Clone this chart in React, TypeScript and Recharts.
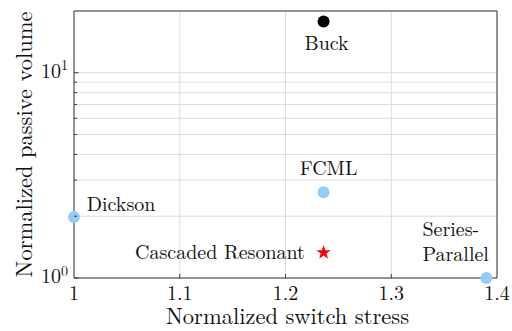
import React from "react";
import { ScatterChart, Scatter, XAxis, YAxis, CartesianGrid } from "recharts";

const blueSeries = [
  { name: "FCML", x: 1.236, y: 2.62 },
  { name: "Dickson", x: 1.0, y: 1.98 },
  { name: "Series-Parallel", x: 1.39, y: 1.0 },
];
const buckSeries = [{ name: "Buck", x: 1.236, y: 17.8 }];
const resonantSeries = [{ name: "Cascaded Resonant", x: 1.236, y: 1.33 }];

const xTicks = [1, 1.1, 1.2, 1.3, 1.4];
const yTicks = [1, 2, 3, 4, 5, 6, 7, 8, 9, 10, 20];
const yMajor = [1, 10];
const xTitle = "Normalized switch stress";
const yTitle = "Normalized passive volume";

const FONT = '"Latin Modern Roman"';
const AX = "#3a3a3a";
const GRID = "#dcdcdc";
const BLUE = "#91cdf6";

// label placement relative to each marker (style only)
const labelStyle: Record<string, { lines: { dx: number; dy: number; text: string }[]; anchor: string }> = {
  Buck: { anchor: "middle", lines: [{ dx: 3, dy: 28.5, text: "Buck" }] },
  FCML: { anchor: "middle", lines: [{ dx: 5, dy: -16.7, text: "FCML" }] },
  Dickson: { anchor: "start", lines: [{ dx: 12.7, dy: -5.7, text: "Dickson" }] },
  "Series-Parallel": {
    anchor: "start",
    lines: [
      { dx: -64, dy: -42, text: "Series-" },
      { dx: -64, dy: -17.3, text: "Parallel" },
    ],
  },
  "Cascaded Resonant": { anchor: "end", lines: [{ dx: -18.7, dy: 6.7, text: "Cascaded Resonant" }] },
};

const txtStyle = { fontFamily: FONT };

const PointLabel = ({ cx, cy, name }: any) => {
  const s = labelStyle[name];
  if (!s) return null;
  return (
    <g>
      {s.lines.map((l, i) => (
        <text
          key={i}
          x={cx + l.dx}
          y={cy + l.dy}
          textAnchor={s.anchor as any}
          fontFamily={FONT}
          style={txtStyle}
          fontSize={20}
          fill="#111"
        >
          {l.text}
        </text>
      ))}
    </g>
  );
};

const makeDot = (color: string) => (props: any) => {
  const { cx, cy, payload } = props;
  return (
    <g>
      <circle cx={cx} cy={cy} r={6} fill={color} />
      <PointLabel cx={cx} cy={cy} name={payload.name} />
    </g>
  );
};

const StarShape = (props: any) => {
  const { cx, cy, payload } = props;
  const R = 7.5;
  const r = 3.0;
  const pts: string[] = [];
  for (let i = 0; i < 10; i++) {
    const a = -Math.PI / 2 + (i * Math.PI) / 5;
    const rad = i % 2 === 0 ? R : r;
    pts.push(`${cx + rad * Math.cos(a)},${cy + rad * Math.sin(a)}`);
  }
  return (
    <g>
      <polygon points={pts.join(" ")} fill="#ff0000" />
      <PointLabel cx={cx} cy={cy} name={payload.name} />
    </g>
  );
};

const LeftTick = (props: any) => {
  const { x, y, payload } = props;
  const v = payload.value;
  const major = yMajor.includes(v);
  const len = major ? 4.5 : 3;
  return (
    <g>
      {v !== 20 && <line x1={x} x2={x + len} y1={y} y2={y} stroke={AX} strokeWidth={1} />}
      {major && (
        <text x={x - 6} y={y + 5} textAnchor="end" fontFamily={FONT} style={txtStyle} fontSize={20} fill="#111">
          10
          <tspan fontSize={14} dy={-7.5}>
            {v === 1 ? "0" : "1"}
          </tspan>
        </text>
      )}
    </g>
  );
};

const RightTick = (props: any) => {
  const { x, y, payload } = props;
  const v = payload.value;
  if (v === 20 || v === 1) return null;
  const len = yMajor.includes(v) ? 4.5 : 3;
  return <line x1={x} x2={x - len} y1={y} y2={y} stroke={AX} strokeWidth={1} />;
};

const BottomTick = (props: any) => {
  const { x, y, payload } = props;
  const v = payload.value;
  return (
    <g>
      {v !== 1 && v !== 1.4 && <line x1={x} x2={x} y1={y} y2={y - 4} stroke={AX} strokeWidth={1} />}
      <text x={x} y={y + 21.5} textAnchor="middle" fontFamily={FONT} style={txtStyle} fontSize={20} fill="#111">
        {String(v)}
      </text>
    </g>
  );
};

const TopTick = (props: any) => {
  const { x, y, payload } = props;
  const v = payload.value;
  if (v === 1 || v === 1.4) return null;
  return <line x1={x} x2={x} y1={y} y2={y + 4} stroke={AX} strokeWidth={1} />;
};

const XTitle = (props: any) => {
  const vb = props.viewBox;
  return (
    <text
      x={vb.x + vb.width / 2 + 2}
      y={vb.y + 46}
      textAnchor="middle"
      fontFamily={FONT}
      style={txtStyle}
      fontSize={22.5}
      fill="#111"
    >
      {xTitle}
    </text>
  );
};

const YTitle = (props: any) => {
  const vb = props.viewBox;
  const cx = vb.x + 32;
  const cy = vb.y + vb.height / 2;
  return (
    <text
      x={cx}
      y={cy}
      transform={`rotate(-90, ${cx}, ${cy})`}
      textAnchor="middle"
      fontFamily={FONT}
      style={txtStyle}
      fontSize={22.5}
      fill="#111"
    >
      {yTitle}
    </text>
  );
};

export default function App() {
  return (
    <div style={{ position: "absolute", left: 0, top: 0, width: 512, height: 331, background: "#fff" }}>
      <ScatterChart width={512} height={331} margin={{ top: 0, right: 0, bottom: 0, left: 0 }}>
        <CartesianGrid stroke={GRID} strokeWidth={1} />
        <XAxis
          xAxisId={0}
          dataKey="x"
          type="number"
          domain={[1, 1.4]}
          ticks={xTicks}
          orientation="bottom"
          height={53}
          tickSize={0}
          tickMargin={0}
          tickLine={false}
          axisLine={{ stroke: AX }}
          tick={<BottomTick />}
          interval={0}
          label={<XTitle />}
        />
        <XAxis
          xAxisId="top"
          dataKey="x"
          type="number"
          domain={[1, 1.4]}
          ticks={xTicks}
          orientation="top"
          height={11}
          tickSize={0}
          tickMargin={0}
          tickLine={false}
          axisLine={{ stroke: AX }}
          tick={<TopTick />}
          interval={0}
        />
        <YAxis
          yAxisId={0}
          dataKey="y"
          type="number"
          scale="log"
          domain={[1, 20]}
          ticks={yTicks}
          orientation="left"
          width={74}
          tickSize={0}
          tickMargin={0}
          tickLine={false}
          axisLine={{ stroke: AX }}
          tick={<LeftTick />}
          interval={0}
          label={<YTitle />}
        />
        <YAxis
          yAxisId="right"
          dataKey="y"
          type="number"
          scale="log"
          domain={[1, 20]}
          ticks={yTicks}
          orientation="right"
          width={15}
          tickSize={0}
          tickMargin={0}
          tickLine={false}
          axisLine={{ stroke: AX }}
          tick={<RightTick />}
          interval={0}
        />
        <Scatter data={blueSeries} shape={makeDot(BLUE)} isAnimationActive={false} />
        <Scatter data={buckSeries} shape={makeDot("#000000")} isAnimationActive={false} />
        <Scatter data={resonantSeries} shape={<StarShape />} isAnimationActive={false} />
      </ScatterChart>
    </div>
  );
}
